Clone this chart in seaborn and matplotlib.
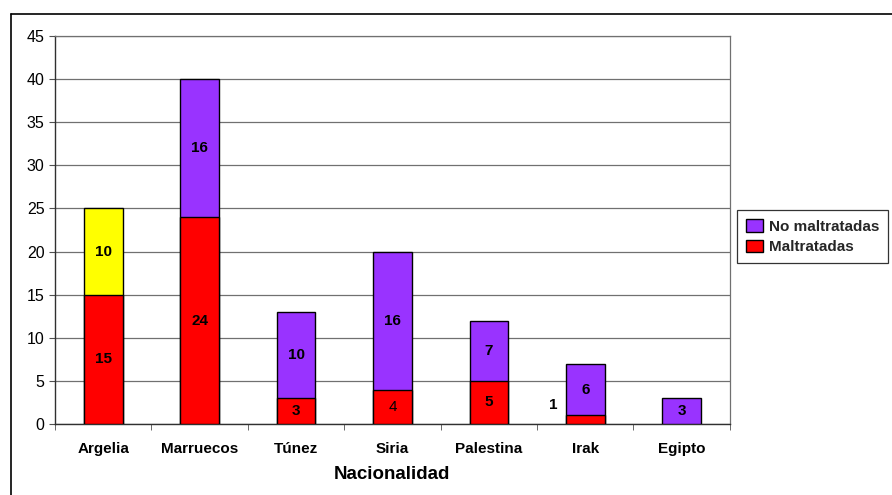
import pandas as pd
import numpy as np
import matplotlib.pyplot as plt
import seaborn as sns
from matplotlib.lines import Line2D
from matplotlib.patches import Patch

# Datos
nacionalidades = ['Argelia', 'Marruecos', 'Túnez', 'Siria', 'Palestina', 'Irak', 'Egipto']
maltratadas = [15, 24, 3, 4, 5, 1, 0]
no_maltratadas = [10, 16, 10, 16, 7, 6, 3]
colores_sup = ['#FFFF00', '#9933FF', '#9933FF', '#9933FF', '#9933FF', '#9933FF', '#9933FF']

df = pd.DataFrame({'nac': nacionalidades, 'malt': maltratadas, 'no_malt': no_maltratadas})
df['total'] = df['malt'] + df['no_malt']

sns.set_style('white')
plt.rcParams['font.family'] = ['Liberation Sans', 'DejaVu Sans']

fig = plt.figure(figsize=(8.92, 4.95), dpi=100)
ax = fig.add_axes([0.0617, 0.1434, 0.7565, 0.7838])

# Barras apiladas: total primero, luego maltratadas encima
sns.barplot(data=df, x='nac', y='total', hue='nac', palette=colores_sup, legend=False,
            saturation=1, width=0.4, edgecolor='black', linewidth=1, ax=ax, zorder=3)
sns.barplot(data=df, x='nac', y='malt', color='#FF0000', saturation=1,
            width=0.4, edgecolor='black', linewidth=1, ax=ax, zorder=3)
for p in ax.patches:
    if p.get_height() == 0:
        p.set_visible(False)

# Etiquetas
for i, row in df.iterrows():
    if row['malt'] > 1:
        peso = 'normal' if row['nac'] == 'Siria' else 'bold'
        ax.text(i, row['malt'] / 2, str(row['malt']), ha='center', va='center',
                fontsize=11, fontweight=peso, color='black', zorder=5)
    elif row['malt'] == 1:
        ax.text(i - 0.33, 2.2, '1', ha='center', va='center', fontsize=11,
                fontweight='bold', color='black', zorder=5)
    ax.text(i, row['malt'] + row['no_malt'] / 2, str(row['no_malt']), ha='center',
            va='center', fontsize=11, fontweight='bold', color='black', zorder=5)

ax.set_ylim(0, 45)
ax.set_xlim(-0.5, 6.5)
ax.set_yticks(range(0, 46, 5))
ax.yaxis.grid(True, color='#707070', linewidth=0.9, zorder=0)
ax.xaxis.grid(False)
ax.set_xticks(np.arange(-0.5, 7, 1), minor=True)
ax.tick_params(axis='x', which='major', length=0, labelsize=11, pad=13, labelcolor='black')
ax.tick_params(axis='x', which='minor', length=4, color='#505050', direction='out', bottom=True)
ax.tick_params(axis='y', length=4, color='#505050', direction='out', left=True,
               labelsize=11.5, labelcolor='black')
for lbl in ax.get_xticklabels():
    lbl.set_fontweight('bold')
ax.set_xlabel('Nacionalidad', fontsize=13.5, fontweight='bold', labelpad=7, color='black')
ax.set_ylabel('')

for s in ['left', 'bottom']:
    ax.spines[s].set_color('#303030')
    ax.spines[s].set_linewidth(1)
for s in ['top', 'right']:
    ax.spines[s].set_color('#707070')
    ax.spines[s].set_linewidth(0.9)

# Leyenda
handles = [Patch(facecolor='#9933FF', edgecolor='black', label='No maltratadas'),
           Patch(facecolor='#FF0000', edgecolor='black', label='Maltratadas')]
leg = fig.legend(handles=handles, loc='center left', bbox_to_anchor=(0.826, 0.522),
                 frameon=True, fancybox=False, edgecolor='black',
                 prop={'weight': 'bold', 'size': 11}, handlelength=1.1, handleheight=0.9,
                 handletextpad=0.4, borderpad=0.6, borderaxespad=0, labelspacing=0.4)
leg.get_frame().set_linewidth(0.9)

# Marco exterior
fig.add_artist(Line2D([11 / 892, 1], [1 - 14 / 495] * 2, color='black', linewidth=1.2))
fig.add_artist(Line2D([11 / 892] * 2, [0, 1 - 14 / 495], color='black', linewidth=1.2))

fig.savefig('out.png', dpi=100)
